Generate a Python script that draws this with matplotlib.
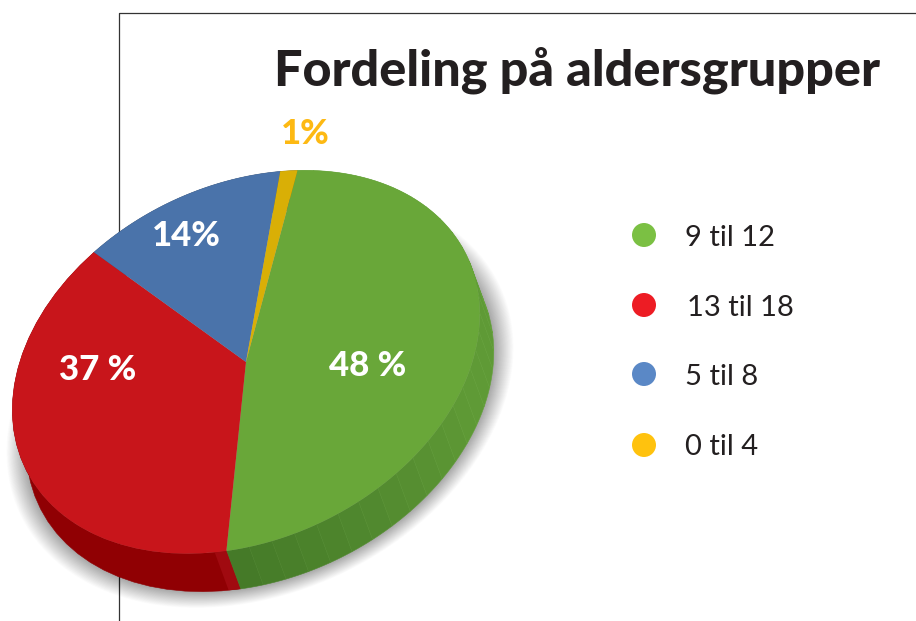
"""
Fordeling på aldersgrupper - skrå kakediagram med 3D-kant
"""
import matplotlib
matplotlib.use('Agg')
import matplotlib.pyplot as plt
import numpy as np
from matplotlib.patches import Polygon, Ellipse
from matplotlib.transforms import Affine2D

plt.rcParams['font.family'] = ['Lato', 'DejaVu Sans']

# data, lest av bildet (vinklene i figuren stemmer ikke helt med de avrundede tallene)
labels = ['9 til 12', '13 til 18', '5 til 8', '0 til 4']
values = [47.8, 37.4, 13.6, 1.2]
pct_labels = ['48 %', '37 %', '14%', '1%']
pie_colors = ['#69a739', '#c8151b', '#4a73aa', '#d9af06']
legend_colors = ['#7bc043', '#ed1c24', '#5a88c6', '#ffc20e']
side_colors = ['#5a9433', '#900003', '#36547c', '#9c7e04']
pct_colors = ['white', 'white', 'white', '#fdb913']

# plassering i piksler (y oppover)
W, H = 916, 621
CX, CY = 246, H - 362
A, B, TILT = 245, 177, 25.7
DX, DY = 14, -38
pct_pos = [(368, 366), (98, 370), (186, 236), (305, 134)]
legend_y = [238, 308, 377, 447]
legend_dot_y = [235, 305, 374, 445]
legend_text_x = [685, 687, 685, 685]

fig = plt.figure(figsize=(W / 100, H / 100), dpi=100)
ax = fig.add_axes([0, 0, 1, 1])

# ramme
ax.plot([119, 119, W], [0, H - 13, H - 13], color='#333333', lw=0.9, zorder=1)

# myk skygge
top_tf = Affine2D().scale(A, B).rotate_deg(TILT).translate(CX, CY)
for k in np.linspace(1, 0, 30):
    grow = 1 + 0.085 * k
    ax.add_patch(Ellipse((CX + 14, CY - 38), 2 * A * grow, 2 * B * grow, angle=TILT,
                         facecolor='black', edgecolor='none', alpha=0.011, zorder=2))

# toppflaten
wedges, _ = ax.pie(values, colors=pie_colors, startangle=58.1, counterclock=False,
                   wedgeprops=dict(linewidth=0, zorder=5))
for w in wedges:
    w.set_transform(top_tf + ax.transData)


def side_face(t1, t2, color, edge='none'):
    t = np.radians(np.linspace(t1, t2, 30))
    pts = top_tf.transform(np.column_stack([np.cos(t), np.sin(t)]))
    poly = np.vstack([pts, pts[::-1] + [DX, DY]])
    ax.add_patch(Polygon(poly, closed=True, facecolor=color, edgecolor=edge, lw=0.4, zorder=3))


# sidekanten, hver kile for seg
for w, col in zip(wedges[1:], side_colors[1:]):
    side_face(w.theta1, w.theta2, col, col)

# grønn kant i fasetter, mørkest nederst
g = wedges[0]
end = g.theta2 % 360 + 360
start = g.theta1 % 360
if start > end:
    start -= 360
dark = np.array(matplotlib.colors.to_rgb('#457a28'))
light = np.array(matplotlib.colors.to_rgb('#5f9a36'))
t1 = start
while t1 < end - 0.01:
    t2 = min(t1 + 5.6, end)
    f = min(max((t1 - start) / 70, 0), 1)
    c = dark + (light - dark) * f
    side_face(t1, t2, c, tuple(c * 1.05))
    t1 = t2

# lysere rød fasett ved skjøten
r_end = wedges[1].theta2 % 360
side_face(r_end - 2.9, r_end, '#a00a10')

# prosenttekster
for s, (x, y), col in zip(pct_labels, pct_pos, pct_colors):
    ax.text(x, H - y, s, color=col, fontsize=25, fontweight='black',
            ha='center', va='center', zorder=8)

# tegnforklaring
ax.scatter([644] * len(labels), [H - y for y in legend_dot_y], s=(24 * 0.72) ** 2,
           c=legend_colors, linewidths=0, zorder=8)
for s, x, y in zip(labels, legend_text_x, legend_y):
    ax.text(x, H - y, s, color='#231f20', fontsize=21, ha='left', va='center', zorder=8)

ax.text(274, H - 70, 'Fordeling på aldersgrupper', color='#231f20', fontsize=36.3,
        fontweight='black', ha='left', va='center', zorder=8)

ax.set_xlim(0, W)
ax.set_ylim(0, H)
ax.set_aspect('auto')
ax.axis('off')

fig.savefig('out.png', dpi=100)
plt.close(fig)
